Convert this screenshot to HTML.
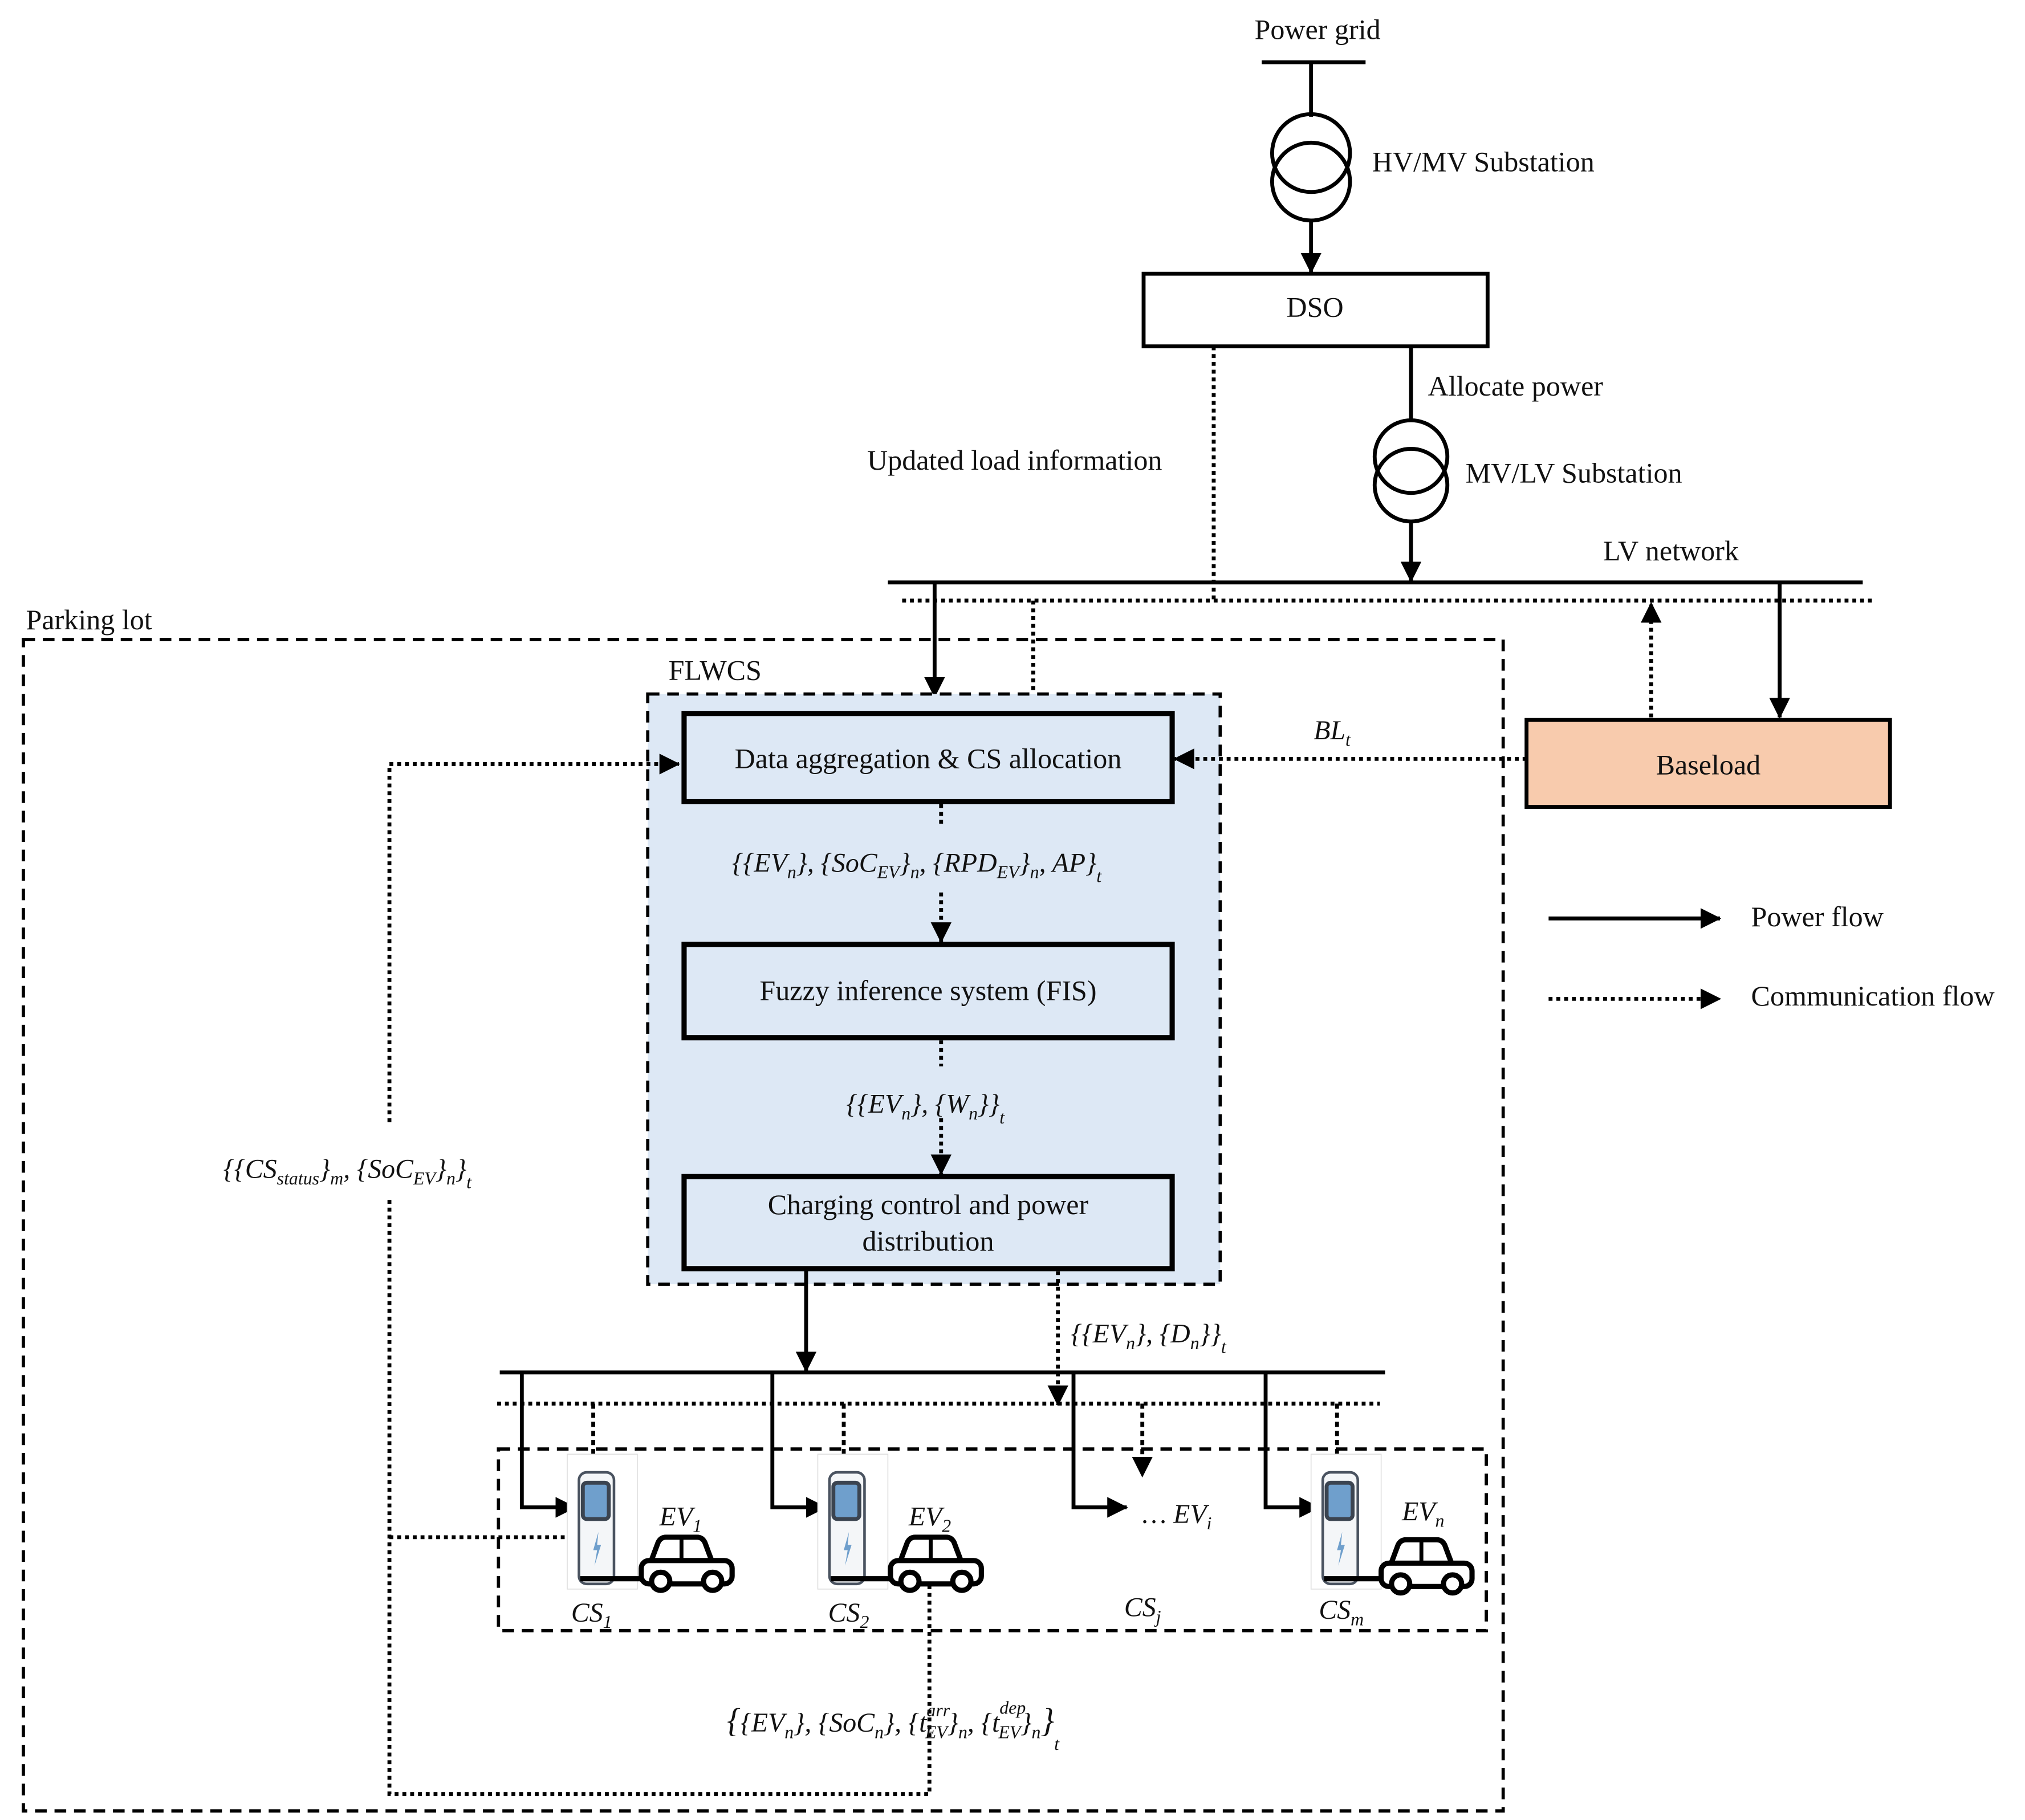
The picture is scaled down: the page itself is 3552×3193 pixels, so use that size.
<!DOCTYPE html>
<html><head><meta charset="utf-8"><style>
html,body{margin:0;padding:0;background:#fff;}
svg{display:block;}
text{font-family:"Liberation Serif","DejaVu Serif",serif;font-size:22px;fill:#111;}
.m{font-style:italic;font-size:21px;}
.s{font-size:14px;font-style:italic;}
</style></head><body>
<svg width="3552" height="3193" viewBox="0 0 1560 1403" preserveAspectRatio="none" xmlns="http://www.w3.org/2000/svg" font-family="Liberation Serif, serif">
<defs>
<marker id="b" markerWidth="16" markerHeight="16" refX="15" refY="8" orient="auto" markerUnits="userSpaceOnUse"><path d="M0,0 L16,8 L0,16 z" fill="#000"/></marker>
<g id="car">
<path d="M8,22 L14,6 Q16,2 20,2 L44,2 Q48,2 50,6 L56,22 Z" fill="#fff" stroke="#000" stroke-width="4"/>
<line x1="32" y1="3" x2="32" y2="20" stroke="#000" stroke-width="3"/>
<rect x="1" y="20" width="70" height="18" rx="6" fill="#fff" stroke="#000" stroke-width="4"/>
<circle cx="16" cy="36" r="7" fill="#fff" stroke="#000" stroke-width="4"/>
<circle cx="56" cy="36" r="7" fill="#fff" stroke="#000" stroke-width="4"/>
</g>
<g id="chg">
<rect x="0" y="0" width="54" height="104" fill="#fff" stroke="#ddd" stroke-width="0.7"/>
<rect x="9" y="14" width="27" height="86" rx="6" fill="#f4f6f8" stroke="#4a5360" stroke-width="2"/>
<rect x="12" y="22" width="20" height="28" rx="3" fill="#6f9fcc" stroke="#3b4450" stroke-width="3"/>
<path d="M24,60 L20,74 L23,74 L21,86 L26,70 L23,70 Z" fill="#6f9fcc"/>
<line x1="10" y1="96" x2="58" y2="96" stroke="#000" stroke-width="4"/>
</g>
</defs>
<g stroke="#000" fill="none">
<line x1="972" y1="48" x2="1052" y2="48" stroke-width="3"/>
<line x1="1010" y1="48" x2="1010" y2="90" stroke-width="3"/>
<circle cx="1010" cy="118" r="30" stroke-width="3"/>
<circle cx="1010" cy="140" r="30" stroke-width="3"/>
<line x1="1010" y1="170" x2="1010" y2="210" stroke-width="3" marker-end="url(#b)"/>
<rect x="881" y="211" width="265" height="56" fill="#fff" stroke-width="3"/>
<line x1="935" y1="267" x2="935" y2="462" stroke-width="3" stroke-dasharray="3,3"/>
<line x1="1087" y1="267" x2="1087" y2="325" stroke-width="3"/>
<circle cx="1087" cy="352" r="28" stroke-width="3"/>
<circle cx="1087" cy="374" r="28" stroke-width="3"/>
<line x1="1087" y1="402" x2="1087" y2="448" stroke-width="3" marker-end="url(#b)"/>
<line x1="684" y1="449" x2="1435" y2="449" stroke-width="3"/>
<line x1="695" y1="463" x2="1443" y2="463" stroke-width="3" stroke-dasharray="3,3"/>
<line x1="720" y1="449" x2="720" y2="537" stroke-width="3" marker-end="url(#b)"/>
<line x1="796" y1="463" x2="796" y2="533" stroke-width="3" stroke-dasharray="3,3"/>
<line x1="1272" y1="553" x2="1272" y2="465" stroke-width="3" stroke-dasharray="3,3" marker-end="url(#b)"/>
<line x1="1371" y1="449" x2="1371" y2="553" stroke-width="3" marker-end="url(#b)"/>
<rect x="1176" y="555" width="280" height="67" fill="#f8cbad" stroke-width="3"/>
<rect x="18" y="493" width="1140" height="903" stroke-width="2.5" stroke-dasharray="9,6"/>
<rect x="499" y="535" width="441" height="455" fill="#dde8f5" stroke-width="2.5" stroke-dasharray="9,6"/>
<rect x="527" y="550" width="376" height="68" fill="#dde8f5" stroke-width="4"/>
<rect x="527" y="728" width="376" height="72" fill="#dde8f5" stroke-width="4"/>
<rect x="527" y="907" width="376" height="71" fill="#dde8f5" stroke-width="4"/>
<line x1="1176" y1="585" x2="905" y2="585" stroke-width="3" stroke-dasharray="3,3" marker-end="url(#b)"/>
<polyline points="300,865 300,589 523,589" stroke-width="3" stroke-dasharray="3,3" marker-end="url(#b)"/>
<polyline points="300,925 300,1383 716,1383 716,1220" stroke-width="3" stroke-dasharray="3,3"/>
<line x1="300" y1="1185" x2="445" y2="1185" stroke-width="3" stroke-dasharray="3,3"/>
<line x1="725" y1="620" x2="725" y2="638" stroke-width="3" stroke-dasharray="3,3"/>
<line x1="725" y1="688" x2="725" y2="726" stroke-width="3" stroke-dasharray="3,3" marker-end="url(#b)"/>
<line x1="725" y1="802" x2="725" y2="822" stroke-width="3" stroke-dasharray="3,3"/>
<line x1="725" y1="862" x2="725" y2="905" stroke-width="3" stroke-dasharray="3,3" marker-end="url(#b)"/>
<line x1="621" y1="978" x2="621" y2="1057" stroke-width="3" marker-end="url(#b)"/>
<line x1="815" y1="980" x2="815" y2="1083" stroke-width="3" stroke-dasharray="3,3" marker-end="url(#b)"/>
<line x1="385" y1="1058" x2="1067" y2="1058" stroke-width="3"/>
<line x1="383" y1="1082" x2="1063" y2="1082" stroke-width="3" stroke-dasharray="3,3"/>
<rect x="384" y="1117" width="761" height="140" stroke-width="2.5" stroke-dasharray="9,6"/>
<polyline points="402,1058 402,1162 443,1162" stroke-width="3" marker-end="url(#b)"/>
<polyline points="595,1058 595,1162 636,1162" stroke-width="3" marker-end="url(#b)"/>
<polyline points="827,1058 827,1162 868,1162" stroke-width="3" marker-end="url(#b)"/>
<polyline points="975,1058 975,1162 1016,1162" stroke-width="3" marker-end="url(#b)"/>
<line x1="457" y1="1082" x2="457" y2="1140" stroke-width="3" stroke-dasharray="4,3" marker-end="url(#b)"/>
<line x1="650" y1="1082" x2="650" y2="1140" stroke-width="3" stroke-dasharray="4,3" marker-end="url(#b)"/>
<line x1="880" y1="1082" x2="880" y2="1138" stroke-width="3" stroke-dasharray="4,3" marker-end="url(#b)"/>
<line x1="1030" y1="1082" x2="1030" y2="1140" stroke-width="3" stroke-dasharray="4,3" marker-end="url(#b)"/>
<line x1="1193" y1="708" x2="1325" y2="708" stroke-width="3" marker-end="url(#b)"/>
<line x1="1193" y1="770" x2="1325" y2="770" stroke-width="3" stroke-dasharray="3,3" marker-end="url(#b)"/>
</g>
<use href="#chg" x="437" y="1121"/>
<use href="#chg" x="630" y="1121"/>
<use href="#chg" x="1010" y="1121"/>
<use href="#car" x="493" y="1183"/>
<use href="#car" x="685" y="1183"/>
<use href="#car" x="1063" y="1185"/>
<text x="1015" y="30" text-anchor="middle">Power grid</text>
<text x="1057" y="132">HV/MV Substation</text>
<text x="1013" y="244" text-anchor="middle">DSO</text>
<text x="1100" y="305">Allocate power</text>
<text x="668" y="362">Updated load information</text>
<text x="1129" y="372">MV/LV Substation</text>
<text x="1235" y="432">LV network</text>
<text x="20" y="485">Parking lot</text>
<text x="515" y="524">FLWCS</text>
<text x="1316" y="597" text-anchor="middle">Baseload</text>
<text x="715" y="592" text-anchor="middle">Data aggregation &amp; CS allocation</text>
<text x="715" y="771" text-anchor="middle">Fuzzy inference system (FIS)</text>
<text x="715" y="936" text-anchor="middle">Charging control and power</text>
<text x="715" y="964" text-anchor="middle">distribution</text>
<text x="1349" y="714">Power flow</text>
<text x="1349" y="775">Communication flow</text>
<text class="m" x="1012" y="570">BL<tspan class="s" dy="5">t</tspan></text>
<text class="m" x="564" y="672">{{EV<tspan class="s" dy="5">n</tspan><tspan dy="-5">}, {SoC</tspan><tspan class="s" dy="5">EV</tspan><tspan dy="-5">}</tspan><tspan class="s" dy="5">n</tspan><tspan dy="-5">, {RPD</tspan><tspan class="s" dy="5">EV</tspan><tspan dy="-5">}</tspan><tspan class="s" dy="5">n</tspan><tspan dy="-5">, AP}</tspan><tspan class="s" dy="8">t</tspan></text>
<text class="m" x="652" y="858">{{EV<tspan class="s" dy="5">n</tspan><tspan dy="-5">}, {W</tspan><tspan class="s" dy="5">n</tspan><tspan dy="-5">}}</tspan><tspan class="s" dy="8">t</tspan></text>
<text class="m" x="172" y="908">{{CS<tspan class="s" dy="5">status</tspan><tspan dy="-5">}</tspan><tspan class="s" dy="5">m</tspan><tspan dy="-5">, {SoC</tspan><tspan class="s" dy="5">EV</tspan><tspan dy="-5">}</tspan><tspan class="s" dy="5">n</tspan><tspan dy="-5">}</tspan><tspan class="s" dy="8">t</tspan></text>
<text class="m" x="825" y="1035">{{EV<tspan class="s" dy="5">n</tspan><tspan dy="-5">}, {D</tspan><tspan class="s" dy="5">n</tspan><tspan dy="-5">}}</tspan><tspan class="s" dy="8">t</tspan></text>
<text class="m" x="508" y="1176">EV<tspan class="s" dy="5">1</tspan></text>
<text class="m" x="700" y="1176">EV<tspan class="s" dy="5">2</tspan></text>
<text class="m" x="880" y="1174">… EV<tspan class="s" dy="5">i</tspan></text>
<text class="m" x="1080" y="1172">EV<tspan class="s" dy="5">n</tspan></text>
<text class="m" x="440" y="1250">CS<tspan class="s" dy="5">1</tspan></text>
<text class="m" x="638" y="1250">CS<tspan class="s" dy="5">2</tspan></text>
<text class="m" x="866" y="1246">CS<tspan class="s" dy="5">j</tspan></text>
<text class="m" x="1016" y="1248">CS<tspan class="s" dy="5">m</tspan></text>
<text class="m" x="560" y="1335"><tspan font-size="26">{</tspan>{EV<tspan class="s" dy="5">n</tspan><tspan dy="-5">}, {SoC</tspan><tspan class="s" dy="5">n</tspan><tspan dy="-5">}, {t</tspan><tspan class="s" dy="-12">arr</tspan><tspan class="s" dx="-19" dy="17">EV</tspan><tspan dy="-5">}</tspan><tspan class="s" dy="5">n</tspan><tspan dy="-5">, {t</tspan><tspan class="s" dy="-14">dep</tspan><tspan class="s" dx="-21" dy="19">EV</tspan><tspan dy="-5">}</tspan><tspan class="s" dy="5">n</tspan><tspan font-size="26" dy="-5">}</tspan><tspan class="s" dy="14">t</tspan></text>
</svg>
</body></html>
